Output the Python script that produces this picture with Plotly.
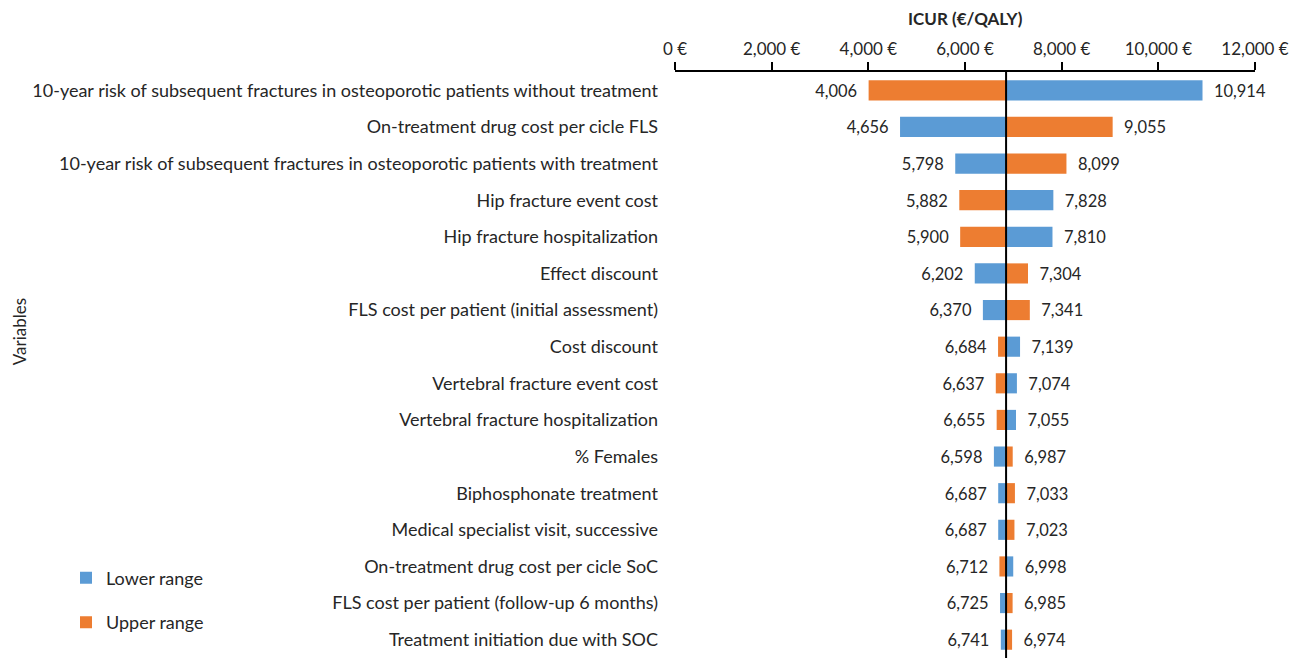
import plotly.graph_objects as go

variables = [
    "10-year risk of subsequent fractures in osteoporotic patients without treatment",
    "On-treatment drug cost per cicle FLS",
    "10-year risk of subsequent fractures in osteoporotic patients with treatment",
    "Hip fracture event cost",
    "Hip fracture hospitalization",
    "Effect discount",
    "FLS cost per patient (initial assessment)",
    "Cost discount",
    "Vertebral fracture event cost",
    "Vertebral fracture hospitalization",
    "% Females",
    "Biphosphonate treatment",
    "Medical specialist visit, successive",
    "On-treatment drug cost per cicle SoC",
    "FLS cost per patient (follow-up 6 months)",
    "Treatment initiation due with SOC",
]
lower_range = [10914, 4656, 5798, 7828, 7810, 6202, 6370, 7139, 7074, 7055, 6598, 6687, 6687, 6998, 6725, 6741]
upper_range = [4006, 9055, 8099, 5882, 5900, 7304, 7341, 6684, 6637, 6655, 6987, 7033, 7023, 6712, 6985, 6974]
base_icur = 6850
tick_values = [0, 2000, 4000, 6000, 8000, 10000, 12000]
tick_labels = ["0 €", "2,000 €", "4,000 €", "6,000 €", "8,000 €", "10,000 €", "12,000 €"]

FONT = "Lato"
TXT = "#262626"
BLUE = "#5B9BD5"
ORANGE = "#ED7D31"
NB = "\u00a0\u00a0"


def lab(v):
    s = f"{v:,}"
    return (s + NB) if v < base_icur else (NB + s)


fig = go.Figure()
for name, vals, col in [("Lower range", lower_range, BLUE), ("Upper range", upper_range, ORANGE)]:
    fig.add_trace(go.Bar(
        name=name, legendgroup=name, orientation="h",
        y=variables, x=[v - base_icur for v in vals], base=base_icur,
        marker=dict(color=col, line=dict(width=0)),
        text=[lab(v) for v in vals], textposition="outside",
        textfont=dict(family=FONT, size=18, color=TXT),
        cliponaxis=False, width=0.55,
    ))

fig.add_shape(type="line", xref="x", yref="paper", x0=base_icur, x1=base_icur,
              y0=0, y1=1, line=dict(color="black", width=2))

fig.add_annotation(text="<b>ICUR (€/QALY)</b>", xref="paper", yref="paper",
                   x=0.5, y=1, yshift=54, xanchor="center", yanchor="middle", showarrow=False,
                   font=dict(family=FONT, size=17, color=TXT))
fig.add_annotation(text="Variables", xref="paper", yref="paper",
                   x=(19 - 675) / 580, y=0.556, xanchor="center", yanchor="middle",
                   textangle=-90, showarrow=False,
                   font=dict(family=FONT, size=17, color=TXT))

fig.update_layout(
    width=1289, height=650,
    margin=dict(l=667, r=42, t=64, b=0),
    barmode="overlay",
    plot_bgcolor="white", paper_bgcolor="white",
    font=dict(family=FONT, size=18, color=TXT),
    xaxis=dict(side="top", range=[0, 12000], tickvals=tick_values, ticktext=tick_labels,
               showgrid=False, zeroline=False, showline=True, linecolor="black", linewidth=1.5,
               ticks="outside", ticklen=8, tickcolor="black", tickwidth=1.5,
               tickfont=dict(family=FONT, size=17, color=TXT)),
    yaxis=dict(autorange="reversed", showgrid=False, zeroline=False, showline=False,
               ticks="", ticklabelstandoff=16,
               tickfont=dict(family=FONT, size=18, color=TXT)),
    legend=dict(x=(66 - 675) / 580, y=0.168, xanchor="left", yanchor="top",
                font=dict(family=FONT, size=18, color=TXT), tracegroupgap=18,
                bgcolor="rgba(0,0,0,0)"),
)

fig.write_html("out.html")
